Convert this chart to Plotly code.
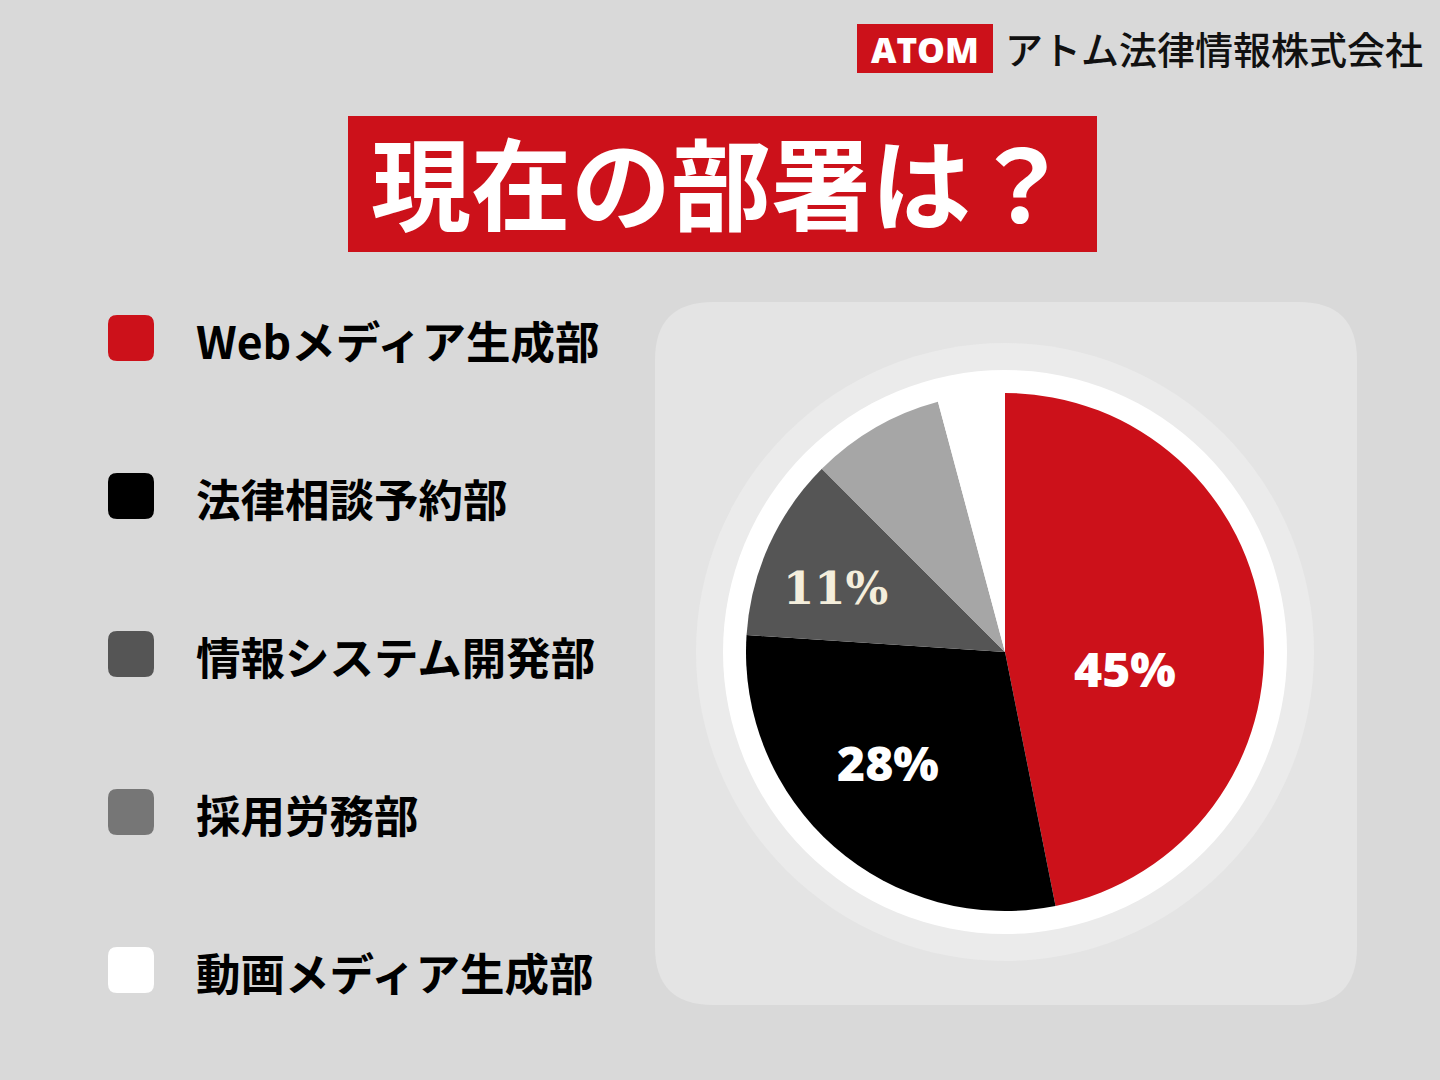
import plotly.graph_objects as go

# Survey: current department of respondents
departments = ["Webメディア生成部", "法律相談予約部", "情報システム開発部", "採用労務部", "動画メディア生成部"]
shares = [45, 28, 11, 8, 4]
labelled = [True, True, True, False, False]

slice_colors = ["#cc111a", "#000000", "#555555", "#a6a6a6", "#ffffff"]
legend_colors = ["#cc111a", "#000000", "#555555", "#767676", "#ffffff"]

title_text = "現在の部署は？"
brand_mark = "ATOM"
company_name = "アトム法律情報株式会社"

W, H = 1440, 1080
RED = "#cc111a"
BG = "#d9d9d9"
JP = "Noto Sans CJK JP"

# pie geometry (pixels from the top-left corner)
cx, cy, r = 1005, 652, 259


def px(x):
    return x / W


def py(y):
    return 1 - y / H


def rounded_rect(x0, y0, x1, y1, rad):
    X0, X1, Y0, Y1 = px(x0), px(x1), py(y0), py(y1)
    rx, ry = rad / W, rad / H
    return (f"M {X0+rx},{Y0} L {X1-rx},{Y0} Q {X1},{Y0} {X1},{Y0-ry} "
            f"L {X1},{Y1+ry} Q {X1},{Y1} {X1-rx},{Y1} L {X0+rx},{Y1} "
            f"Q {X0},{Y1} {X0},{Y1+ry} L {X0},{Y0-ry} Q {X0},{Y0} {X0+rx},{Y0} Z")


def circle(x, y, rad, color):
    return dict(type="circle", xref="paper", yref="paper",
                x0=px(x - rad), x1=px(x + rad), y0=py(y + rad), y1=py(y - rad),
                fillcolor=color, line=dict(width=0), layer="below")


def rect(x0, y0, x1, y1, color):
    return dict(type="rect", xref="paper", yref="paper",
                x0=px(x0), x1=px(x1), y0=py(y1), y1=py(y0),
                fillcolor=color, line=dict(width=0), layer="below")


def label(x, y, text, font, xanchor="center"):
    return dict(xref="paper", yref="paper", x=px(x), y=py(y), text=text,
                showarrow=False, font=font, xanchor=xanchor, yanchor="middle")


fig = go.Figure()

fig.add_trace(go.Pie(
    labels=departments,
    values=shares,
    sort=False,
    direction="clockwise",
    rotation=0,
    marker=dict(colors=slice_colors, line=dict(width=0)),
    textinfo="none",
    hoverinfo="label+percent",
    showlegend=False,
    domain=dict(x=[px(cx - r), px(cx + r)], y=[py(cy + r), py(cy - r)]),
))

shapes = [
    # panel behind the pie
    dict(type="path", xref="paper", yref="paper", path=rounded_rect(655, 302, 1357, 1005, 58),
         fillcolor="#e4e4e4", line=dict(width=0), layer="below"),
    # soft halo and white rim around the pie
    circle(cx, cy, 309, "#ebebeb"),
    circle(cx, cy, 282, "#ffffff"),
    # title banner and brand box
    rect(348, 116, 1097, 252, RED),
    rect(857, 24, 993, 73, RED),
]

annotations = [
    label(721, 180, title_text, dict(family=JP, size=100, color="#ffffff", weight="bold")),
    label(925, 49, brand_mark, dict(family="Open Sans", size=35, color="#ffffff", weight=800)),
    label(1003, 48, company_name, dict(family=JP, size=38, color="#111111", weight=500), xanchor="left"),
]

# legend rows
row_y0, row_step = 338, 158
for i, (name, col) in enumerate(zip(departments, legend_colors)):
    yc = row_y0 + i * row_step
    shapes.append(dict(type="path", xref="paper", yref="paper",
                       path=rounded_rect(108, yc - 23, 154, yc + 23, 9),
                       fillcolor=col, line=dict(width=0), layer="below"))
    annotations.append(label(194, yc + 1, name,
                             dict(family=JP, size=44.5, color="#000000", weight="bold"),
                             xanchor="left"))

# value labels on the pie
label_pos = [(1125, 668), (888, 762), (835, 588)]
label_fonts = [
    dict(family="Open Sans", size=48, color="#ffffff", weight=800),
    dict(family="Open Sans", size=48, color="#ffffff", weight=800),
    dict(family="DejaVu Serif", size=45, color="#f4eedc", weight="bold"),
]
k = 0
for v, show in zip(shares, labelled):
    if not show:
        continue
    x, y = label_pos[k]
    annotations.append(label(x, y, f"{v}%", label_fonts[k]))
    k += 1

fig.update_layout(
    width=W, height=H, autosize=False,
    margin=dict(l=0, r=0, t=0, b=0),
    paper_bgcolor=BG, plot_bgcolor=BG,
    shapes=shapes,
    annotations=annotations,
)

fig.write_html("out.html")
